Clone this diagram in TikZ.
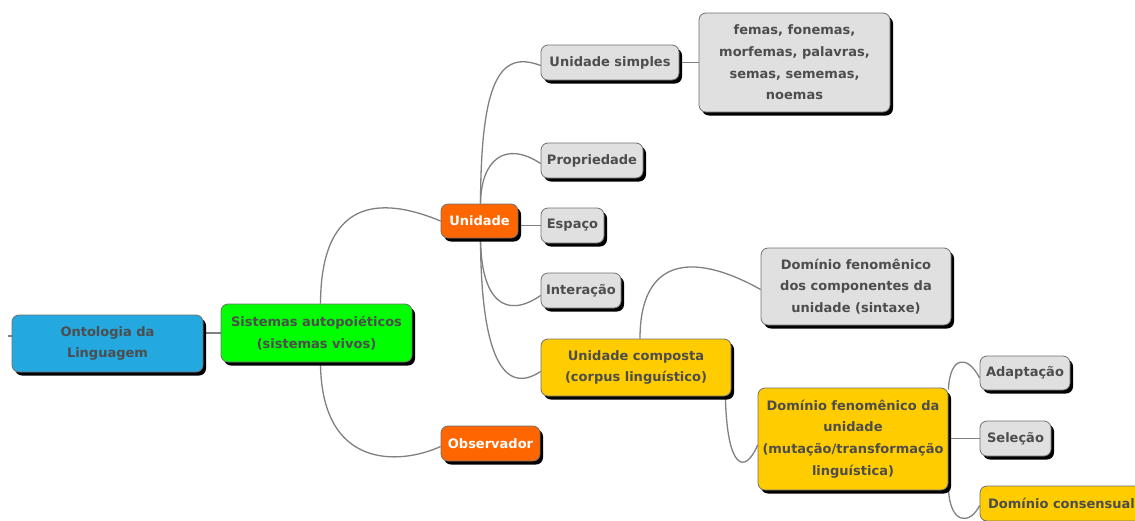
\documentclass[tikz,border=0pt]{standalone}
\usepackage{fontspec}
\setmainfont{DejaVu Sans}
\usetikzlibrary{shadows,backgrounds}
\definecolor{cblue}{HTML}{23A8E0}
\definecolor{cgreen}{HTML}{00FF00}
\definecolor{corange}{HTML}{FF6600}
\definecolor{cyellow}{HTML}{FFCC00}
\definecolor{cgray}{HTML}{E0E0E0}
\definecolor{bordergray}{HTML}{707070}
\definecolor{edgegray}{HTML}{808080}
\definecolor{textgray}{HTML}{4D4D4D}
\begin{document}
\begin{tikzpicture}[x=1pt,y=-1pt,
  box/.style={draw=bordergray, line width=0.8pt, rounded corners=7pt, inner sep=0pt,
    align=center, text=textgray, font=\fontsize{13}{21.7}\selectfont\bfseries,
    drop shadow={shadow xshift=3pt, shadow yshift=-3.5pt, fill=black, opacity=1}},
  graybox/.style={box, fill=cgray},
  orangebox/.style={box, fill=corange, text=white},
  yellowbox/.style={box, fill=cyellow},
  link/.style={draw=edgegray, line width=1.3pt}
]
\useasboundingbox (0,0) rectangle (1135,520);
\clip (0,0) rectangle (1135,520);

\node[box, fill=cblue, minimum width=191pt, minimum height=57pt] (ont) at (107.5,343.5) {Ontologia da\\Linguagem};
\node[box, fill=cgreen, minimum width=191pt, minimum height=58pt] (sis) at (316.5,333) {Sistemas autopoiéticos\\(sistemas vivos)};
\node[orangebox, minimum width=77pt, minimum height=34pt] (uni) at (479.5,221) {Unidade};
\node[orangebox, minimum width=99pt, minimum height=35pt] (obs) at (490.5,443.5) {Observador};
\node[graybox, minimum width=138pt, minimum height=35pt] (us) at (610,62.5) {Unidade simples};
\node[graybox, minimum width=191pt, minimum height=99pt] (fem) at (794.5,62.5) {femas, fonemas,\\morfemas, palavras,\\semas, sememas,\\noemas};
\node[graybox, minimum width=102pt, minimum height=35pt] (prop) at (592,160.5) {Propriedade};
\node[graybox, minimum width=63pt, minimum height=35pt] (esp) at (572.5,225.5) {Espaço};
\node[graybox, minimum width=80pt, minimum height=35pt] (int) at (581,290.5) {Interação};
\node[yellowbox, minimum width=190pt, minimum height=57pt] (uc) at (636,367.5) {Unidade composta\\(corpus linguístico)};
\node[graybox, minimum width=190pt, minimum height=77pt] (dfc) at (856,286.5) {Domínio fenomênico\\dos componentes da\\unidade (sintaxe)};
\node[yellowbox, minimum width=190pt, minimum height=102pt] (dfu) at (853,439) {Domínio fenomênico da\\unidade\\(mutação/transformação\\linguística)};
\node[graybox, minimum width=90pt, minimum height=34pt] (ada) at (1025,373) {Adaptação};
\node[graybox, minimum width=71pt, minimum height=35pt] (sel) at (1015.5,438.5) {Seleção};
\node[yellowbox, minimum width=163pt, minimum height=35pt] (dc) at (1061.5,503.5) {Domínio consensual};

\coordinate (stub) at (8,336);

\begin{scope}[on background layer]
\draw[link] (stub) -- (stub -| ont.west);
\draw[link] (sis.west -| ont.east) -- (sis.west);
\draw[link] ([xshift=4pt]sis.north) .. controls (321,190) and (390,200) .. (uni.west);
\draw[link] ([xshift=4pt]sis.south) .. controls (321,470) and (400,465) .. ([yshift=-3pt]obs.west);
\draw[link] ([xshift=1pt]uni.north) .. controls (481,80) and (500,50) .. ([yshift=-3pt]us.west);
\draw[link] ([xshift=1pt]uni.north) .. controls (481,160) and (505,140) .. ([yshift=-3pt]prop.west);
\draw[link] (esp.west -| uni.east) -- (esp.west);
\draw[link] ([xshift=1pt]uni.south) .. controls (481,300) and (505,320) .. ([yshift=-5pt]int.west);
\draw[link] ([xshift=1pt]uni.south) .. controls (481,360) and (505,395) .. ([yshift=-4pt]uc.west);
\draw[link] (us.east) -- (us.east -| fem.west);
\draw[link] ([xshift=4pt]uc.north) .. controls (640,260) and (690,250) .. ([yshift=-3pt]dfc.west);
\draw[link] ([xshift=-6pt]uc.south east) .. controls (727,470) and (745,475) .. ([yshift=-6pt]dfu.west);
\draw[link] ([yshift=-2pt]dfu.north east) .. controls (950,355) and (968,355) .. ([yshift=-5pt]ada.west);
\draw[link] (sel.west -| dfu.east) -- (sel.west);
\draw[link] ([yshift=2pt]dfu.south east) .. controls (950,525) and (970,525) .. ([yshift=-2pt]dc.west);
\end{scope}
\end{tikzpicture}
\end{document}
